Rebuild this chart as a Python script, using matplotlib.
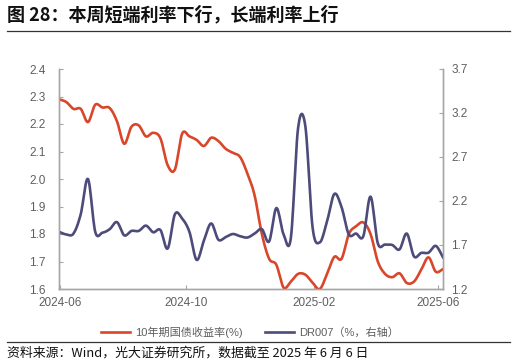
import numpy as np
import pandas as pd
import matplotlib
matplotlib.use("Agg")
import matplotlib.pyplot as plt
import matplotlib.dates as mdates

plt.rcParams['font.family'] = ['Liberation Sans', 'Noto Sans CJK SC', 'DejaVu Sans']

dates = pd.date_range("2024-05-31", "2025-06-06", freq="7D")

# 10年期国债收益率 (%), left axis
cgb10y = [2.29, 2.28, 2.255, 2.255, 2.207, 2.27, 2.26, 2.258, 2.21, 2.128,
          2.19, 2.195, 2.155, 2.168, 2.148, 2.05, 2.035, 2.165, 2.155, 2.142,
          2.12, 2.15, 2.138, 2.11, 2.095, 2.08, 2.02, 1.94, 1.80, 1.71,
          1.688, 1.605, 1.627, 1.655, 1.652, 1.623, 1.60, 1.655, 1.717, 1.71,
          1.80, 1.828, 1.842, 1.80, 1.70, 1.655, 1.643, 1.657, 1.622, 1.627,
          1.67, 1.715, 1.663, 1.672]

# DR007 (%), right axis
dr007 = [1.85, 1.82, 1.83, 2.05, 2.45, 1.85, 1.84, 1.88, 1.96, 1.81,
         1.86, 1.86, 1.92, 1.845, 1.87, 1.66, 2.05, 2.0, 1.85, 1.53,
         1.75, 1.945, 1.76, 1.79, 1.825, 1.80, 1.785, 1.83, 1.88, 1.74,
         2.12, 1.82, 1.78, 3.03, 3.05, 1.9, 1.73, 1.97, 2.28, 2.13,
         1.82, 1.83, 1.80, 2.25, 1.72, 1.705, 1.70, 1.65, 1.83, 1.57,
         1.61, 1.613, 1.69, 1.56]

left_ticks = [1.6, 1.7, 1.8, 1.9, 2.0, 2.1, 2.2, 2.3, 2.4]
right_ticks = [1.2, 1.7, 2.2, 2.7, 3.2, 3.7]
x_ticks = ["2024-06-01", "2024-10-01", "2025-02-01", "2025-06-01"]


def smooth(x, y, n=12):
    # catmull-rom through the weekly points
    x = np.asarray(x, float)
    y = np.asarray(y, float)
    px = np.concatenate([[2 * x[0] - x[1]], x, [2 * x[-1] - x[-2]]])
    py = np.concatenate([[2 * y[0] - y[1]], y, [2 * y[-1] - y[-2]]])
    t = np.linspace(0, 1, n, endpoint=False)
    xs, ys = [], []
    for i in range(1, len(px) - 2):
        for p, out in ((px, xs), (py, ys)):
            p0, p1, p2, p3 = p[i - 1], p[i], p[i + 1], p[i + 2]
            out.append(0.5 * (2 * p1 + (-p0 + p2) * t
                              + (2 * p0 - 5 * p1 + 4 * p2 - p3) * t ** 2
                              + (-p0 + 3 * p1 - 3 * p2 + p3) * t ** 3))
    xs.append([x[-1]])
    ys.append([y[-1]])
    return np.concatenate(xs), np.concatenate(ys)


red = '#D9472B'
navy = '#4D4B7A'
grey = '#5F5F5F'
spine = '#A6A6A6'
cjk = ['Noto Sans CJK SC', 'DejaVu Sans']

fig = plt.figure(figsize=(5.16, 3.64), dpi=100)
ax = fig.add_axes([59 / 516, 1 - 289 / 364, (443 - 59) / 516, (289 - 69) / 364])
ax2 = ax.twinx()

xnum = mdates.date2num(dates)
sx, sy = smooth(xnum, cgb10y)
l1, = ax.plot(sx, sy, color=red, lw=1.9, label='10年期国债收益率(%)', zorder=3)
sx, sy = smooth(xnum, dr007)
l2, = ax2.plot(sx, sy, color=navy, lw=1.9, label='DR007（%，右轴）', zorder=2)

ax.set_xlim(mdates.date2num(pd.Timestamp("2024-05-31")), mdates.date2num(pd.Timestamp("2025-06-06")))
ax.set_ylim(1.6, 2.4)
ax2.set_ylim(1.2, 3.7)
ax.set_yticks(left_ticks)
ax.set_yticklabels([f"{v:.1f}" for v in left_ticks])
ax2.set_yticks(right_ticks)
ax2.set_yticklabels([f"{v:.1f}" for v in right_ticks])
ax.set_xticks(mdates.date2num(pd.to_datetime(x_ticks)))
ax.set_xticklabels([d[:7] for d in x_ticks])

for a in (ax, ax2):
    a.spines['top'].set_visible(False)
    for s in ('left', 'right', 'bottom'):
        a.spines[s].set_color(spine)
        a.spines[s].set_linewidth(1.0)
    a.tick_params(direction='in', length=3, color=spine, labelsize=8.5, labelcolor=grey)
ax.tick_params(axis='y', pad=9.5)
ax2.tick_params(axis='y', pad=6)
ax.tick_params(axis='x', pad=6)

fig.legend([l1, l2], [l1.get_label(), l2.get_label()], loc='center',
           bbox_to_anchor=(250 / 516, 1 - 332 / 364), ncol=2, frameon=False,
           fontsize=8, labelcolor=grey, handlelength=2.6, columnspacing=2.0,
           handletextpad=0.5)

fig.text(7 / 516, 1 - 15 / 364, '图 28：本周短端利率下行，长端利率上行', family=cjk,
         fontsize=13, fontweight='bold', va='center', ha='left', color='#111111')
fig.add_artist(plt.Line2D([7 / 516, 510 / 516], [1 - 31 / 364, 1 - 31 / 364],
                          color='#333333', lw=0.9))
fig.add_artist(plt.Line2D([7 / 516, 510 / 516], [1 - 342 / 364, 1 - 342 / 364],
                          color='#333333', lw=0.9))
fig.text(7 / 516, 1 - 353 / 364, '资料来源：Wind，光大证券研究所，数据截至 2025 年 6 月 6 日',
         family=cjk, fontsize=9.3, va='center', ha='left', color='#111111')

fig.savefig('out.png', dpi=100)
